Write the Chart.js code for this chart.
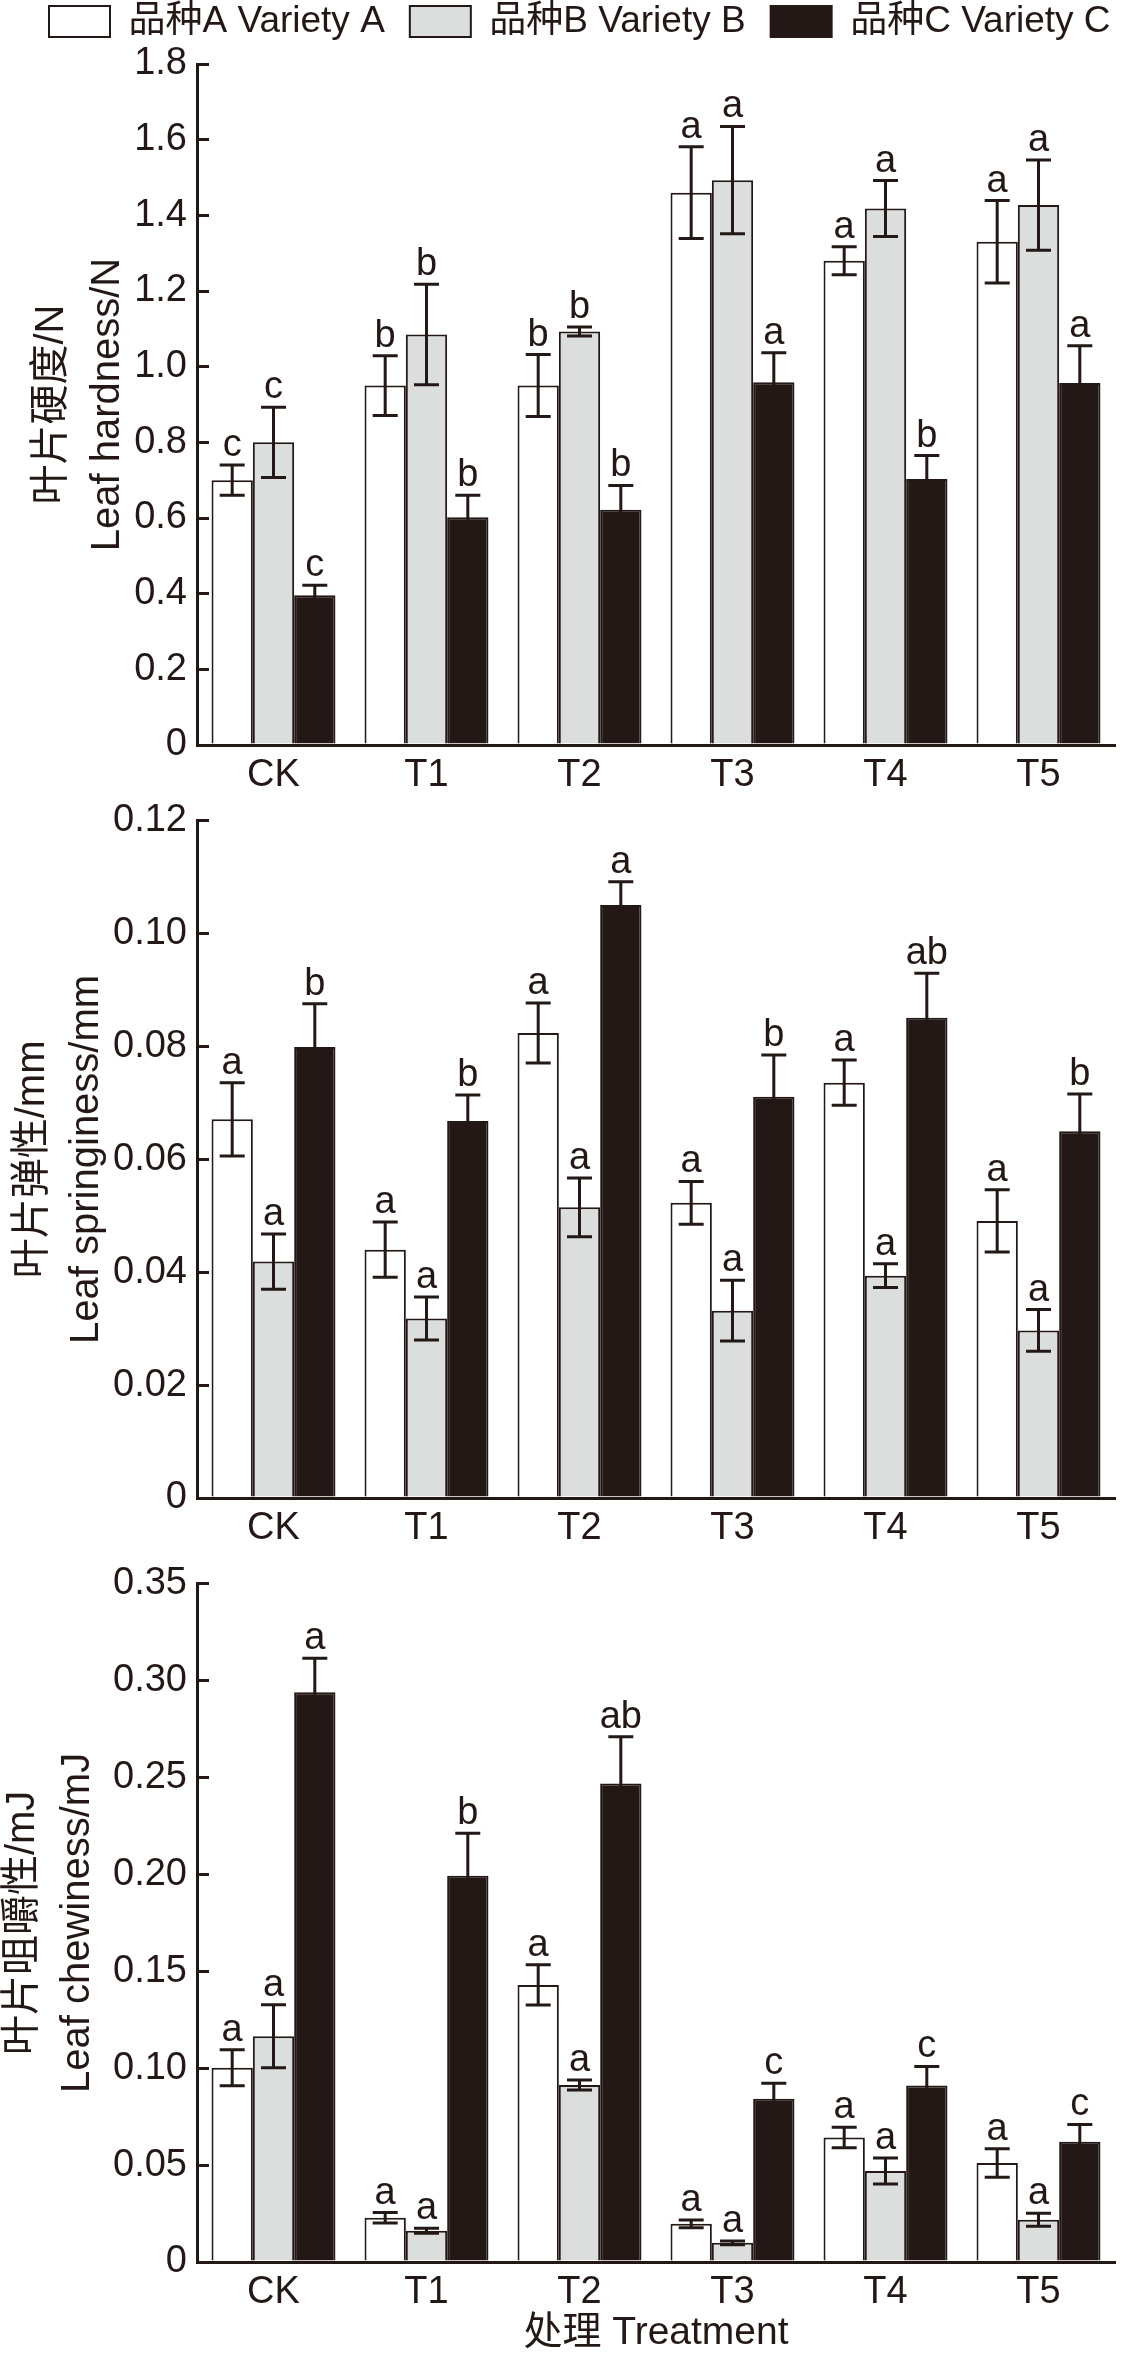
<!DOCTYPE html>
<html>
<head>
<meta charset="utf-8">
<script src="https://cdn.jsdelivr.net/npm/chart.js@4/dist/chart.umd.min.js"></script>
<style>
html, body { margin: 0; padding: 0; background: #fff; overflow: hidden; width: 1134px; height: 2353px; position: relative; }
canvas { position: absolute; }
</style>
</head>
<body>
<canvas id="c1" width="1134" height="837" style="top:-22px;left:24px"></canvas>
<canvas id="c2" width="1134" height="792" style="top:776px;left:0px"></canvas>
<canvas id="c3" width="1134" height="814" style="top:1539px;left:0px"></canvas>
<script>
var treatments = ['CK', 'T1', 'T2', 'T3', 'T4', 'T5'];
var varietyNames = ['品种A Variety A', '品种B Variety B', '品种C Variety C'];

// leaf hardness (N)
var hardnessA = [0.70, 0.95, 0.95, 1.46, 1.28, 1.33];
var hardnessB = [0.80, 1.085, 1.093, 1.493, 1.418, 1.427];
var hardnessC = [0.396, 0.602, 0.622, 0.959, 0.703, 0.957];
var hardnessErrA = [0.04, 0.079, 0.082, 0.121, 0.037, 0.109];
var hardnessErrB = [0.093, 0.133, 0.012, 0.142, 0.074, 0.119];
var hardnessErrC = [0.026, 0.058, 0.064, 0.078, 0.062, 0.098];
var hardnessLetA = ['c', 'b', 'b', 'a', 'a', 'a'];
var hardnessLetB = ['c', 'b', 'b', 'a', 'a', 'a'];
var hardnessLetC = ['c', 'b', 'b', 'a', 'b', 'a'];
var hardnessTicks = ['0', '0.2', '0.4', '0.6', '0.8', '1.0', '1.2', '1.4', '1.6', '1.8'];

// leaf springiness (mm)
var springA = [0.0671, 0.0440, 0.0824, 0.0523, 0.0736, 0.0491];
var springB = [0.0419, 0.0318, 0.0515, 0.0332, 0.0394, 0.0297];
var springC = [0.0799, 0.0668, 0.1051, 0.0711, 0.0851, 0.0650];
var springErrA = [0.0065, 0.0049, 0.0053, 0.0038, 0.0040, 0.0055];
var springErrB = [0.0049, 0.0038, 0.0052, 0.0054, 0.0021, 0.0037];
var springErrC = [0.0077, 0.0046, 0.0041, 0.0074, 0.0079, 0.0066];
var springLetA = ['a', 'a', 'a', 'a', 'a', 'a'];
var springLetB = ['a', 'a', 'a', 'a', 'a', 'a'];
var springLetC = ['b', 'b', 'a', 'b', 'ab', 'b'];
var springTicks = ['0', '0.02', '0.04', '0.06', '0.08', '0.10', '0.12'];

// leaf chewiness (mJ)
var chewA = [0.1002, 0.0228, 0.143, 0.0197, 0.0643, 0.0511];
var chewB = [0.1165, 0.0161, 0.0913, 0.0099, 0.047, 0.0218];
var chewC = [0.294, 0.1993, 0.247, 0.0843, 0.0911, 0.062];
var chewErrA = [0.0093, 0.0027, 0.0104, 0.002, 0.0053, 0.0074];
var chewErrB = [0.0162, 0.0013, 0.0026, 0.001, 0.0067, 0.0033];
var chewErrC = [0.0176, 0.022, 0.0241, 0.008, 0.0098, 0.009];
var chewLetA = ['a', 'a', 'a', 'a', 'a', 'a'];
var chewLetB = ['a', 'a', 'a', 'a', 'a', 'a'];
var chewLetC = ['a', 'b', 'ab', 'c', 'c', 'c'];
var chewTicks = ['0', '0.05', '0.10', '0.15', '0.20', '0.25', '0.30', '0.35'];

var ink = '#231815';
var fillColors = ['#ffffff', '#dcdddd', '#231815'];
var family = "'Liberation Sans', 'Noto Sans CJK SC', sans-serif";
Chart.defaults.font.family = family;
Chart.defaults.color = ink;

var errorBarPlugin = {
  id: 'errorBars',
  afterDatasetsDraw: function(chart) {
    var ctx = chart.ctx;
    var yScale = chart.scales.y;
    chart.data.datasets.forEach(function(ds, i) {
      var meta = chart.getDatasetMeta(i);
      meta.data.forEach(function(bar, j) {
        var v = ds.data[j];
        var e = ds.errors[j];
        var yTop = yScale.getPixelForValue(v + e);
        var yBot = yScale.getPixelForValue(v - e);
        ctx.save();
        ctx.strokeStyle = ink;
        ctx.lineWidth = 3;
        ctx.beginPath();
        ctx.moveTo(bar.x, yBot);
        ctx.lineTo(bar.x, yTop);
        ctx.moveTo(bar.x - 12.5, yTop);
        ctx.lineTo(bar.x + 12.5, yTop);
        ctx.moveTo(bar.x - 12.5, yBot);
        ctx.lineTo(bar.x + 12.5, yBot);
        ctx.stroke();
        ctx.fillStyle = ink;
        ctx.font = '38px ' + family;
        ctx.textAlign = 'center';
        ctx.textBaseline = 'alphabetic';
        ctx.fillText(ds.letters[j], bar.x, yTop - 9);
        ctx.restore();
      });
    });
  }
};

// page geometry: plot area runs from x=197 to x=1115
var plotLeft = 197;
var plotRight = 1115;
var pageWidth = 1134;

function makeChart(id, values, errors, letters, tickLabels, yMax, yStep, yTitle, opts) {
  var datasets = [];
  for (var i = 0; i < 3; i++) {
    datasets.push({
      label: varietyNames[i],
      data: values[i],
      errors: errors[i],
      letters: letters[i],
      backgroundColor: fillColors[i],
      borderColor: ink,
      borderWidth: 2
    });
  }

  var xScale = {
    grid: { display: false, drawTicks: false },
    border: { display: true, color: ink, width: 3 },
    ticks: { color: ink, font: { size: 38 }, padding: 8 },
    afterFit: function(s) { s.height = opts.xHeight; }
  };
  if (opts.xTitle) {
    xScale.title = { display: true, text: opts.xTitle, color: ink, font: { size: 39, lineHeight: 1 }, padding: { top: 0, bottom: 0 } };
  }

  var yWidth = plotLeft - opts.left;
  var rightWidth = pageWidth - plotRight + opts.left;
  // first title line centre sits at titleX (page px)
  var titlePad = opts.titleX - opts.left - opts.titleGap / 2;

  return new Chart(document.getElementById(id), {
    type: 'bar',
    data: { labels: treatments, datasets: datasets },
    plugins: [errorBarPlugin],
    options: {
      responsive: false,
      animation: false,
      devicePixelRatio: 1,
      layout: { padding: { top: opts.padTop, left: 0, right: 0, bottom: 0 } },
      datasets: { bar: { categoryPercentage: 0.81, barPercentage: 1.0 } },
      scales: {
        x: xScale,
        y: {
          min: 0,
          max: yMax,
          ticks: {
            stepSize: yStep,
            color: ink,
            font: { size: 38 },
            padding: 22,
            callback: function(v, idx) { return tickLabels[idx]; }
          },
          grid: { display: true, drawOnChartArea: false, drawTicks: true, tickLength: -12, color: ink, lineWidth: 3 },
          border: { display: true, color: ink, width: 3 },
          title: {
            display: true,
            text: yTitle,
            color: ink,
            font: { size: 40, lineHeight: opts.titleGap / 40 },
            padding: { top: titlePad, bottom: 0 }
          },
          afterFit: function(s) { s.width = yWidth; }
        },
        yR: {
          position: 'right',
          display: true,
          grid: { display: false },
          ticks: { display: false },
          border: { display: false },
          afterFit: function(s) { s.width = rightWidth; }
        }
      },
      plugins: {
        tooltip: { enabled: false },
        legend: {
          display: !!opts.legend,
          position: 'top',
          align: 'start',
          labels: { boxWidth: 61, boxHeight: 31, padding: 25, color: ink, font: { size: 37 } }
        },
        title: {
          display: !!opts.legend,
          text: '',
          weight: 0,
          font: { size: 1, lineHeight: 1 },
          padding: { top: 0, bottom: 13 }
        }
      }
    }
  });
}

makeChart('c1',
  [hardnessA, hardnessB, hardnessC],
  [hardnessErrA, hardnessErrB, hardnessErrC],
  [hardnessLetA, hardnessLetB, hardnessLetC],
  hardnessTicks, 1.8, 0.2, ['叶片硬度/N', 'Leaf hardness/N'],
  { legend: true, left: 24, padTop: 0, xHeight: 70, titleX: 52, titleGap: 56 });

makeChart('c2',
  [springA, springB, springC],
  [springErrA, springErrB, springErrC],
  [springLetA, springLetB, springLetC],
  springTicks, 0.12, 0.02, ['叶片弹性/mm', 'Leaf springiness/mm'],
  { legend: false, left: 0, padTop: 40, xHeight: 70, titleX: 33, titleGap: 54 });

makeChart('c3',
  [chewA, chewB, chewC],
  [chewErrA, chewErrB, chewErrC],
  [chewLetA, chewLetB, chewLetC],
  chewTicks, 0.35, 0.05, ['叶片咀嚼性/mJ', 'Leaf chewiness/mJ'],
  { legend: false, left: 0, padTop: 40, xHeight: 91, xTitle: '处理 Treatment', titleX: 23, titleGap: 55 });
</script>
</body>
</html>
